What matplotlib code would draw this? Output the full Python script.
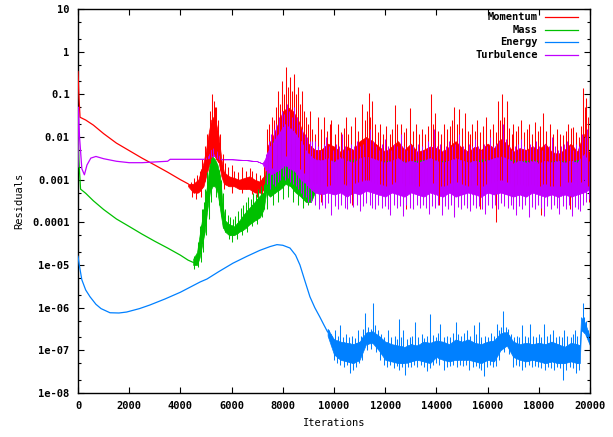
import numpy as np
import matplotlib.pyplot as plt
from matplotlib.ticker import FixedLocator, NullFormatter

# residual histories, read per series
# smooth start (iteration, residual)
mom_it = [0, 40, 80, 300, 600, 1000, 1500, 2000, 2500, 3000, 3500, 4000, 4300]
mom_val = [0.34, 0.08, 0.029, 0.025, 0.019, 0.012, 0.0072, 0.0048, 0.0032, 0.0022, 0.0015, 0.001, 0.0008]

mass_it = [0, 30, 100, 300, 600, 1000, 1500, 2000, 2500, 3000, 3500, 4000, 4300, 4500]
mass_val = [0.012, 0.003, 0.0006, 0.00048, 0.00032, 0.0002, 0.00012, 8e-5, 5.3e-5, 3.6e-5, 2.5e-5, 1.7e-5, 1.3e-5, 1.15e-5]

energy_it = [0, 50, 150, 300, 470, 700, 900, 1250, 1600, 1900, 2400, 2800, 3400, 4000, 4770, 5040,
             5500, 6050, 6600, 7100, 7500, 7770, 8000, 8280, 8500, 8670, 8850, 9060, 9250, 9450, 9600, 9750]
energy_val = [1.6e-5, 1e-5, 4.5e-6, 2.6e-6, 1.8e-6, 1.2e-6, 9.5e-7, 7.6e-7, 7.5e-7, 7.9e-7, 9.5e-7, 1.15e-6,
              1.6e-6, 2.3e-6, 4e-6, 4.7e-6, 7e-6, 1.1e-5, 1.6e-5, 2.2e-5, 2.7e-5, 3e-5, 2.9e-5, 2.5e-5,
              1.7e-5, 1e-5, 4.5e-6, 1.8e-6, 1e-6, 6e-7, 4e-7, 2.7e-7]

turb_it = [0, 15, 60, 150, 250, 350, 500, 700, 1000, 1500, 2000, 2500, 3000, 3500, 3600, 4000, 4500, 4900]
turb_val = [0.002, 0.05, 0.01, 0.0018, 0.0013, 0.0022, 0.0032, 0.0035, 0.0031, 0.0027, 0.0025, 0.0025,
            0.0026, 0.0027, 0.003, 0.003, 0.003, 0.003]

# noisy part: band checkpoints (iteration, low, high)
mom_band_it = [4300, 4500, 4700, 4900, 5000, 5100, 5200, 5300, 5400, 5500, 5600, 5700, 5900, 6100,
               6300, 6500, 6700, 6900, 7100, 7300, 7400, 7600, 7800, 8000, 8200, 8400, 8600, 8800,
               9000, 9250, 9500, 9750, 10000, 10250, 10500, 10750, 11000, 11250, 11500, 11750, 12000,
               12250, 12500, 12750, 13000, 13250, 13500, 13750, 14000, 14250, 14500, 14750, 15000,
               15250, 15500, 15750, 16000, 16250, 16500, 16750, 17000, 17250, 17500, 17750, 18000,
               18250, 18500, 18750, 19000, 19250, 19500, 19750, 20000]
mom_band_lo = [0.0007, 0.0005, 0.0005, 0.0007, 0.0012, 0.002, 0.003, 0.004, 0.003, 0.0025, 0.0012,
               0.0008, 0.0007, 0.0007, 0.0006, 0.0006, 0.0006, 0.0005, 0.0005, 0.0006, 0.0015, 0.002,
               0.003, 0.003, 0.004, 0.003, 0.002, 0.0015, 0.001, 0.0008, 0.0009, 0.0007, 0.0008, 0.0009,
               0.0007, 0.0008, 0.0009, 0.001, 0.0009, 0.0008, 0.0007, 0.0008, 0.0009, 0.0007, 0.0008,
               0.0007, 0.0008, 0.0009, 0.0008, 0.0007, 0.0008, 0.0009, 0.0008, 0.0007, 0.0008, 0.0007,
               0.0008, 0.0009, 0.001, 0.0009, 0.0007, 0.0008, 0.0007, 0.0008, 0.0007, 0.0008, 0.0007,
               0.0007, 0.0008, 0.0009, 0.0007, 0.001, 0.0006]
mom_band_hi = [0.0008, 0.0008, 0.001, 0.0025, 0.005, 0.012, 0.025, 0.03, 0.02, 0.01, 0.003, 0.0015,
               0.0012, 0.0011, 0.001, 0.0011, 0.0012, 0.001, 0.0009, 0.0013, 0.006, 0.01, 0.02, 0.04,
               0.05, 0.04, 0.025, 0.012, 0.007, 0.005, 0.005, 0.007, 0.006, 0.0045, 0.006, 0.005, 0.008,
               0.01, 0.008, 0.006, 0.0045, 0.006, 0.008, 0.005, 0.007, 0.0045, 0.005, 0.006, 0.0055,
               0.0045, 0.006, 0.008, 0.0055, 0.0045, 0.006, 0.005, 0.007, 0.0055, 0.009, 0.007, 0.0045,
               0.0055, 0.005, 0.006, 0.005, 0.007, 0.0045, 0.004, 0.005, 0.007, 0.0045, 0.012, 0.003]

mass_band_it = [4500, 4650, 4750, 4850, 4950, 5050, 5150, 5250, 5350, 5450, 5550, 5650, 5750, 5900,
                6100, 6300, 6500, 6700, 6900, 7100, 7250, 7350, 7500, 7700, 7900, 8100, 8300, 8500,
                8700, 8900, 9100, 9300, 9800, 10300, 10800, 11300, 11800, 12300, 12800, 13300, 13800,
                14300, 14800, 15300, 15800, 16300, 16800, 17300, 17800, 18300, 18800, 19300, 19800, 20000]
mass_band_lo = [1e-5, 1e-5, 1.5e-5, 3e-5, 6e-5, 2e-4, 5e-4, 7e-4, 7e-4, 5e-4, 2e-4, 8e-5, 6e-5, 5e-5,
                5e-5, 6e-5, 7e-5, 9e-5, 1.1e-4, 1.3e-4, 2e-4, 5e-4, 4e-4, 5e-4, 6e-4, 8e-4, 7e-4, 5e-4,
                4e-4, 3e-4, 3e-4, 6e-4, 7e-4, 6e-4, 7e-4, 6e-4, 7e-4, 6e-4, 7e-4, 6e-4, 7e-4, 6e-4,
                7e-4, 6e-4, 7e-4, 6e-4, 7e-4, 6e-4, 7e-4, 6e-4, 7e-4, 6e-4, 7e-4, 7e-4]
mass_band_hi = [1.4e-5, 2e-5, 5e-5, 1.2e-4, 3e-4, 8e-4, 2.5e-3, 3.5e-3, 3e-3, 2.2e-3, 1.2e-3, 2.5e-4, 1.1e-4,
                9e-5, 8e-5, 1.1e-4, 1.6e-4, 2.2e-4, 3e-4, 4.2e-4, 5e-4, 1.5e-3, 2e-3, 3.5e-3, 4e-3, 4.5e-3,
                4e-3, 3e-3, 2.2e-3, 1.2e-3, 1e-3, 2.2e-3, 2.8e-3, 2.6e-3, 3e-3, 2.8e-3, 2.6e-3, 2.9e-3,
                2.6e-3, 2.8e-3, 3e-3, 2.7e-3, 2.9e-3, 2.6e-3, 3e-3, 2.8e-3, 3e-3, 2.7e-3, 2.9e-3,
                2.6e-3, 2.8e-3, 2.7e-3, 3.2e-3, 2.4e-3]

energy_band_it = [9750, 10000, 10250, 10500, 10750, 11000, 11250, 11500, 11750, 12000, 12250, 12500,
                  12750, 13000, 13250, 13500, 13750, 14000, 14250, 14500, 14750, 15000, 15250, 15500,
                  15750, 16000, 16250, 16500, 16750, 17000, 17250, 17500, 17750, 18000, 18250, 18500,
                  18750, 19000, 19250, 19500, 19600, 19650, 19800, 20000]
energy_band_lo = [2.2e-7, 8e-8, 6e-8, 5.5e-8, 5e-8, 6e-8, 1.4e-7, 1.5e-7, 1e-7, 6e-8, 5.5e-8, 5e-8, 5e-8,
                  5.5e-8, 6e-8, 5.5e-8, 5e-8, 7e-8, 6e-8, 5.5e-8, 6e-8, 6e-8, 6e-8, 5.5e-8, 5e-8, 6e-8,
                  5.5e-8, 1e-7, 1.3e-7, 7e-8, 6e-8, 5.5e-8, 6e-8, 5.5e-8, 5e-8, 5.5e-8, 5e-8, 5e-8, 5.5e-8,
                  5e-8, 5e-8, 3e-7, 2.5e-7, 1.3e-7]
energy_band_hi = [3.2e-7, 1.8e-7, 1.6e-7, 1.5e-7, 1.4e-7, 1.6e-7, 2.6e-7, 2.8e-7, 2.2e-7, 1.6e-7, 1.4e-7,
                  1.3e-7, 1.2e-7, 1.4e-7, 1.3e-7, 1.6e-7, 1.5e-7, 1.7e-7, 1.6e-7, 1.4e-7, 1.8e-7,
                  1.6e-7, 1.8e-7, 1.5e-7, 1.4e-7, 1.6e-7, 1.7e-7, 2.5e-7, 2.7e-7, 1.6e-7, 1.4e-7,
                  1.5e-7, 1.4e-7, 1.5e-7, 1.4e-7, 1.6e-7, 1.4e-7, 1.2e-7, 1.5e-7, 1.4e-7, 1.3e-7,
                  6e-7, 4.5e-7, 2e-7]

turb_band_it = [4900, 5100, 5200, 5300, 5400, 5500, 5600, 6000, 6500, 7000, 7200, 7300, 7500, 7700,
                7900, 8100, 8300, 8500, 8700, 8900, 9100, 9250, 9500, 9750, 10000, 10250, 10500, 10750,
                11000, 11250, 11500, 11750, 12000, 12250, 12500, 12750, 13000, 13250, 13500, 13750,
                14000, 14250, 14500, 14750, 15000, 15250, 15500, 15750, 16000, 16250, 16500, 16750,
                17000, 17250, 17500, 17750, 18000, 18250, 18500, 18750, 19000, 19250, 19500, 19750, 20000]
turb_band_lo = [0.003, 0.0032, 0.0035, 0.0036, 0.0034, 0.003, 0.003, 0.003, 0.0029, 0.0027, 0.0024,
                0.0018, 0.0013, 0.0015, 0.0018, 0.0022, 0.0018, 0.0015, 0.001, 0.0008, 0.0006, 5e-4,
                4.5e-4, 5e-4, 4.5e-4, 5e-4, 4e-4, 5e-4, 4.5e-4, 5.5e-4, 5e-4, 4.5e-4, 4e-4, 5e-4,
                4.5e-4, 4e-4, 5e-4, 4.5e-4, 4e-4, 5e-4, 4.5e-4, 4e-4, 5e-4, 4e-4, 4.5e-4, 5e-4, 4.5e-4,
                4e-4, 5e-4, 4.5e-4, 5e-4, 4.5e-4, 4e-4, 4.5e-4, 4e-4, 5e-4, 4.5e-4, 4e-4, 4.5e-4, 4e-4,
                4.5e-4, 4e-4, 4.5e-4, 5e-4, 6e-4]
turb_band_hi = [0.003, 0.0036, 0.005, 0.0055, 0.0048, 0.0036, 0.003, 0.003, 0.0029, 0.0027, 0.0024,
                0.003, 0.006, 0.009, 0.014, 0.02, 0.016, 0.012, 0.008, 0.005, 0.0035, 3e-3, 2.8e-3, 3.2e-3,
                2.6e-3, 3.4e-3, 2.8e-3, 2.5e-3, 3.2e-3, 3.5e-3, 3.2e-3, 2.8e-3, 2.5e-3, 2.8e-3, 3.2e-3,
                2.5e-3, 2.8e-3, 2.5e-3, 2.8e-3, 3.2e-3, 2.8e-3, 2.5e-3, 2.8e-3, 3.2e-3, 2.8e-3, 2.5e-3,
                2.8e-3, 2.5e-3, 2.8e-3, 3.2e-3, 3.5e-3, 3.2e-3, 2.5e-3, 2.8e-3, 2.5e-3, 2.8e-3, 2.5e-3,
                2.8e-3, 2.5e-3, 2.8e-3, 2.5e-3, 2.8e-3, 2.5e-3, 4e-3, 2.5e-3]

# single spikes out of the bands (iteration, peak / trough)
mom_up_it = [4400, 4550, 4650, 4750, 4850, 4950, 5050, 5150, 5250, 5300, 5350, 5400, 5480, 5560, 5650,
             5750, 5850, 6000, 6100, 6250, 6400, 6550, 6700, 6800, 6950, 7100, 7250,
             7400, 7480, 7560, 7640, 7720, 7800, 7880, 7960, 8040, 8120, 8200, 8280, 8360, 8440, 8520,
             8600, 8680, 8760, 8840, 8920, 9000, 9080, 9160,
             9250, 9370, 9480, 9600, 9720, 9840, 9900, 10020, 10150, 10270, 10380, 10450, 10560, 10680,
             10830, 10950, 11100, 11200, 11280, 11350, 11420, 11500, 11620, 11720, 11800, 11920, 12050,
             12170, 12280, 12400, 12480, 12600, 12720, 12830, 12950, 13080, 13200, 13320, 13450, 13570,
             13680, 13800, 13870, 13950, 14070, 14180, 14300, 14420, 14540, 14620, 14700, 14800, 14900,
             15000, 15120, 15240, 15330, 15400, 15500, 15580, 15700, 15820, 15950, 16080, 16200, 16320,
             16420, 16500, 16580, 16660, 16740, 16850, 16950, 17000, 17120, 17200, 17300, 17420, 17520,
             17600, 17720, 17850, 17950, 18060, 18180, 18300, 18440, 18560, 18700, 18820, 18940, 19050,
             19150, 19250, 19350, 19460, 19560, 19650, 19730, 19800, 19860, 19930]
mom_up_val = [0.0009, 0.0011, 0.0013, 0.0016, 0.003, 0.006, 0.012, 0.04, 0.1, 0.07, 0.05, 0.05, 0.025,
              0.012, 0.004, 0.0025, 0.002, 0.0022, 0.0016, 0.0015, 0.002, 0.0016, 0.0019, 0.0016, 0.0014,
              0.0013, 0.002,
              0.015, 0.02, 0.03, 0.025, 0.05, 0.12, 0.06, 0.2, 0.1, 0.44, 0.15, 0.25, 0.12, 0.3, 0.1,
              0.15, 0.06, 0.12, 0.04, 0.03, 0.02, 0.04, 0.015,
              0.012, 0.03, 0.015, 0.03, 0.014, 0.02, 0.025, 0.012, 0.02, 0.013, 0.016, 0.029, 0.012,
              0.018, 0.03, 0.014, 0.06, 0.025, 0.04, 0.11, 0.03, 0.07, 0.02, 0.013, 0.02, 0.012, 0.018,
              0.012, 0.015, 0.056, 0.02, 0.02, 0.013, 0.016, 0.048, 0.014, 0.02, 0.012, 0.015, 0.012,
              0.018, 0.1, 0.02, 0.036, 0.014, 0.012, 0.02, 0.015, 0.018, 0.025, 0.05, 0.02, 0.045,
              0.016, 0.036, 0.014, 0.012, 0.02, 0.014, 0.025, 0.013, 0.018, 0.03, 0.015, 0.02, 0.013,
              0.07, 0.025, 0.1, 0.03, 0.07, 0.016, 0.012, 0.02, 0.014, 0.018, 0.025, 0.013, 0.015,
              0.02, 0.012, 0.022, 0.014, 0.018, 0.036, 0.014, 0.02, 0.012, 0.015, 0.012, 0.011, 0.014,
              0.02, 0.016, 0.017, 0.013, 0.01, 0.018, 0.14, 0.05, 0.08, 0.03]
mom_dn_it = [4450, 4600, 4800, 5700, 6000, 6400, 6800, 7000, 7200,
             9500, 10700, 12800, 14100, 14700, 15700, 16330, 17000, 18100, 19200, 19950]
mom_dn_val = [0.0004, 0.00035, 0.0004, 0.0006, 0.0005, 0.0005, 0.00045, 0.0004, 0.00045,
              3e-4, 2.5e-4, 2e-4, 2.5e-4, 1.5e-4, 2e-4, 1e-4, 2.5e-4, 1.5e-4, 2e-4, 3e-4]

mass_up_it = [4700, 4780, 4860, 4920, 4980, 5040, 5600, 5680, 5760, 5850, 5950, 6050, 6150, 6250, 6350,
              6450, 6550, 6650, 6750, 6850, 6950, 7050, 7150, 7250, 7450, 7600, 7700, 7800, 7950, 8050,
              8200, 8350, 8450, 8600, 8750, 8850, 9000]
mass_up_val = [3e-5, 8e-5, 2e-4, 3e-4, 6e-4, 1.5e-3, 1e-3, 5e-4, 2e-4, 1.5e-4, 1.3e-4, 1.2e-4, 1.4e-4,
               1.8e-4, 2.2e-4, 2.5e-4, 3e-4, 4e-4, 3.5e-4, 5e-4, 4.5e-4, 6e-4, 7e-4, 8e-4, 4e-3, 8e-3,
               6e-3, 7e-3, 1e-2, 8e-3, 9e-3, 7e-3, 6e-3, 5e-3, 4e-3, 3e-3, 2e-3]
mass_dn_it = [4550, 4700, 4800, 4900, 5000, 5100, 5200, 5400, 5500, 5900, 6000, 6200, 6400, 6600, 6800,
              7000, 7200, 7400, 7600, 7800, 8000, 8200, 8400, 8600, 8800, 9000]
mass_dn_val = [8e-6, 9e-6, 1.2e-5, 2e-5, 5e-5, 1.2e-4, 3e-4, 4e-4, 2.5e-4, 4e-5, 3.5e-5, 4e-5, 5e-5, 6e-5,
               8e-5, 9e-5, 1.3e-4, 2e-4, 2.5e-4, 3e-4, 3.5e-4, 4e-4, 3e-4, 2.5e-4, 2.2e-4, 2.5e-4]

energy_up_it = [9800, 9930, 10040, 10160, 10230, 10350, 10480, 10600, 10720, 10820, 10930, 11060, 11150,
                11220, 11330, 11440, 11520, 11600, 11700, 11830, 11960, 12110, 12240, 12370, 12460, 12540,
                12630, 12710, 12840, 12950, 13060, 13170, 13300, 13420, 13530, 13640, 13750, 13860, 13980,
                14060, 14150, 14280, 14400, 14520, 14640, 14750, 14860, 14960, 15060, 15180, 15300, 15450,
                15560, 15660, 15760, 15900, 16020, 16140, 16250, 16350, 16460, 16540, 16600, 16700, 16800,
                16900, 17020, 17130, 17240, 17350, 17460, 17560, 17660, 17780, 17900, 18000, 18100, 18200,
                18320, 18440, 18570, 18680, 18800, 18900, 19000, 19120, 19240, 19320, 19400, 19500, 19720,
                19780, 19850, 19930]
energy_up_val = [3e-7, 2.2e-7, 3e-7, 2.2e-7, 3.9e-7, 2e-7, 2.4e-7, 2e-7, 2.2e-7, 1.9e-7, 3e-7, 2.2e-7,
                 3.2e-7, 7.7e-7, 3.5e-7, 3.2e-7, 1.3e-6, 3.9e-7, 3e-7, 2.4e-7, 2e-7, 3e-7, 2e-7, 2.2e-7,
                 1.8e-7, 5.5e-7, 2e-7, 3e-7, 1.8e-7, 2e-7, 2.2e-7, 4.6e-7, 2e-7, 2.4e-7, 1.9e-7, 2.2e-7,
                 7.1e-7, 2.3e-7, 2e-7, 2.5e-7, 4.2e-7, 2e-7, 2.2e-7, 2e-7, 2.6e-7, 4.6e-7, 2.4e-7, 2.2e-7,
                 2.6e-7, 3e-7, 2.2e-7, 3.9e-7, 2.4e-7, 4.6e-7, 2e-7, 2.2e-7, 2e-7, 2.5e-7, 2.2e-7, 4.2e-7,
                 3e-7, 3.5e-7, 8.5e-7, 3.5e-7, 3.2e-7, 2.4e-7, 2e-7, 2.2e-7, 2e-7, 3.9e-7, 2.2e-7, 2e-7,
                 4.2e-7, 2.2e-7, 2e-7, 2.4e-7, 2e-7, 4.2e-7, 2.2e-7, 2.4e-7, 3e-7, 2e-7, 2.2e-7, 2e-7,
                 3e-7, 2.2e-7, 2e-7, 2.4e-7, 3e-7, 2.2e-7, 1.3e-6, 6e-7, 5e-7, 3e-7]
energy_dn_it = [9900, 10000, 10120, 10250, 10380, 10500, 10620, 10740, 10860, 10980, 11100, 11300, 11450,
                11650, 11800, 11950, 12080, 12200, 12330, 12450, 12540, 12650, 12760, 12880, 13000, 13120,
                13250, 13380, 13500, 13620, 13740, 13880, 14000, 14120, 14290, 14420, 14540, 14660, 14800,
                14930, 15050, 15170, 15290, 15420, 15540, 15650, 15750, 15850, 15960, 16080, 16200, 16320,
                16450, 16650, 16850, 17000, 17120, 17240, 17360, 17480, 17600, 17720, 17840, 17960, 18080,
                18240, 18360, 18480, 18600, 18720, 18840, 18960, 19080, 19200, 19330, 19450, 19560]
energy_dn_val = [1.3e-7, 6e-8, 5e-8, 4.5e-8, 4e-8, 4.5e-8, 2.9e-8, 3.5e-8, 4e-8, 5e-8, 6e-8, 1e-7, 1.1e-7,
                 9e-8, 6e-8, 4.5e-8, 4e-8, 4.5e-8, 3.8e-8, 4.2e-8, 3.4e-8, 4e-8, 2.7e-8, 4e-8, 4e-8, 4.5e-8,
                 4e-8, 4.5e-8, 4e-8, 3.2e-8, 3.8e-8, 4.5e-8, 5e-8, 4.5e-8, 3.4e-8, 4e-8, 4.2e-8, 4.5e-8,
                 4e-8, 4.5e-8, 4.2e-8, 4.5e-8, 3.5e-8, 4e-8, 4.2e-8, 3.8e-8, 3.5e-8, 2.5e-8, 4e-8, 4.5e-8,
                 4e-8, 4.2e-8, 6e-8, 9e-8, 8e-8, 4e-8, 4.5e-8, 4.2e-8, 3.5e-8, 4e-8, 4.5e-8, 4e-8, 4.2e-8,
                 4e-8, 3.8e-8, 3.4e-8, 4e-8, 3.8e-8, 3.5e-8, 4e-8, 3.8e-8, 2e-8, 3.5e-8, 4e-8, 3.8e-8,
                 3e-8, 3.5e-8]

turb_up_it = [7350, 7450, 7550, 7650, 7750, 7850, 7950, 8050, 8150, 8250, 8350, 8450, 8550, 8650, 8750,
              8850, 8950, 9050, 9150,
              9250, 9370, 9480, 9600, 9700, 9820, 9950, 10080, 10200, 10300, 10420, 10540, 10660, 10780,
              10900, 11020, 11140, 11260, 11400, 11520, 11640, 11760, 11880, 12000, 12120, 12240, 12360,
              12480, 12600, 12720, 12840, 12960, 13080, 13200, 13300, 13420, 13540, 13660, 13780, 13900,
              14020, 14140, 14260, 14380, 14500, 14620, 14740, 14900, 15020, 15140, 15260, 15380, 15500,
              15620, 15740, 15860, 15980, 16100, 16220, 16340, 16460, 16600, 16720, 16840, 16960, 17080,
              17200, 17300, 17420, 17540, 17660, 17780, 17900, 18020, 18140, 18260, 18380, 18500, 18620,
              18740, 18860, 18980, 19100, 19220, 19340, 19460, 19580, 19700, 19800, 19900]
turb_up_val = [0.004, 0.008, 0.012, 0.015, 0.02, 0.03, 0.04, 0.035, 0.06, 0.04, 0.03, 0.05, 0.03, 0.02,
               0.015, 0.012, 0.01, 0.008, 0.008,
               0.008, 0.006, 0.005, 0.007, 0.01, 0.006, 0.005, 0.007, 0.006, 0.012, 0.006, 0.005, 0.007,
               0.006, 0.008, 0.006, 0.007, 0.009, 0.015, 0.008, 0.006, 0.005, 0.007, 0.009, 0.006, 0.005,
               0.007, 0.006, 0.012, 0.006, 0.005, 0.007, 0.006, 0.005, 0.007, 0.006, 0.005, 0.008, 0.006,
               0.015, 0.006, 0.007, 0.005, 0.006, 0.008, 0.006, 0.007, 0.012, 0.006, 0.005, 0.007, 0.006,
               0.009, 0.006, 0.005, 0.007, 0.006, 0.01, 0.006, 0.007, 0.008, 0.02, 0.009, 0.006, 0.005,
               0.006, 0.007, 0.009, 0.006, 0.005, 0.007, 0.006, 0.008, 0.006, 0.005, 0.007, 0.006, 0.01,
               0.006, 0.005, 0.006, 0.007, 0.008, 0.006, 0.005, 0.007, 0.006, 0.012, 0.01, 0.015]
turb_dn_it = [7400, 7500, 7600, 7700, 7800, 7900, 8000, 8100, 8200, 8300, 8400, 8500, 8600, 8700, 8800,
              8900, 9000, 9100,
              9250, 9400, 9520, 9650, 9780, 9900, 10030, 10160, 10290, 10420, 10500, 10630, 10760, 10880,
              11000, 11130, 11260, 11390, 11500, 11600, 11730, 11860, 11990, 12100, 12200, 12330, 12460,
              12590, 12700, 12830, 12960, 13100, 13230, 13360, 13480, 13600, 13700, 13830, 13960, 14080,
              14200, 14330, 14460, 14580, 14700, 14830, 14960, 15080, 15200, 15300, 15430, 15560, 15680,
              15800, 15900, 16030, 16160, 16280, 16400, 16530, 16660, 16790, 16920, 17000, 17100, 17230,
              17360, 17480, 17600, 17730, 17860, 17980, 18100, 18200, 18330, 18460, 18580, 18700, 18800,
              18930, 19060, 19180, 19300, 19430, 19530, 19600, 19720, 19850, 19950]
turb_dn_val = [0.0008, 0.0006, 0.0008, 0.0007, 0.0009, 0.001, 0.0012, 0.001, 0.0011, 0.0009, 0.0008,
               0.0007, 0.0006, 0.0005, 0.0004, 0.0004, 0.0003, 0.0003,
               2.5e-4, 2e-4, 2.6e-4, 2.2e-4, 2.8e-4, 1.5e-4, 2.4e-4, 2e-4, 2.6e-4, 2.2e-4, 2e-4, 2.8e-4,
               2.3e-4, 2.6e-4, 1.8e-4, 2.4e-4, 2.9e-4, 2.5e-4, 2.2e-4, 2e-4, 2.6e-4, 2.2e-4, 2.4e-4, 2e-4,
               1.5e-4, 2.6e-4, 2.2e-4, 2.4e-4, 1.4e-4, 2.5e-4, 2.2e-4, 2e-4, 2.6e-4, 2.2e-4, 2.5e-4,
               2.2e-4, 1.6e-4, 2.4e-4, 2.2e-4, 2.6e-4, 1.5e-4, 2.4e-4, 2.1e-4, 2.5e-4, 1.3e-4, 2.3e-4,
               2e-4, 2.6e-4, 2.2e-4, 1.8e-4, 2.5e-4, 2.2e-4, 2.4e-4, 2.1e-4, 1.6e-4, 2.5e-4, 2.2e-4,
               2.6e-4, 2e-4, 2.8e-4, 2.4e-4, 2.2e-4, 2.5e-4, 2e-4, 1.5e-4, 2.4e-4, 2.1e-4, 2.5e-4, 1.3e-4,
               2.3e-4, 2.1e-4, 2.5e-4, 2.2e-4, 1.4e-4, 2.4e-4, 2.1e-4, 2.5e-4, 2.2e-4, 1.6e-4, 2.4e-4,
               2.1e-4, 2.5e-4, 1.4e-4, 2.3e-4, 2e-4, 1.8e-4, 2.5e-4, 3e-4, 3.5e-4]

names = ['Momentum', 'Mass', 'Energy', 'Turbulence']
colors = ['#ff0000', '#00c000', '#0080ff', '#c000ff']

ytick_vals = [10, 1, 0.1, 0.01, 0.001, 0.0001, 1e-5, 1e-6, 1e-7, 1e-8]
ytick_labels = ['10', '1', '0.1', '0.01', '0.001', '0.0001', '1e-05', '1e-06', '1e-07', '1e-08']
xtick_vals = list(range(0, 20001, 2000))

plt.rcParams['font.family'] = 'DejaVu Sans Mono'
plt.rcParams['font.weight'] = 'bold'
plt.rcParams['font.size'] = 7.5

fig = plt.figure(figsize=(6.13, 4.37), dpi=100)
ax = fig.add_axes([78 / 613, 44 / 437, 512 / 613, 384 / 437])


def draw(color, it, val, b_it, b_lo, b_hi, up_it, up_val, dn_it, dn_val):
    ax.plot(it, val, color=color, lw=0.9, zorder=3)
    ax.fill_between(b_it, b_lo, b_hi, color=color, lw=0.5)
    # spikes start inside the band
    base = np.interp(up_it, b_it, b_lo)
    ax.vlines(up_it, base, up_val, color=color, lw=0.75)
    base = np.interp(dn_it, b_it, b_hi)
    ax.vlines(dn_it, dn_val, base, color=color, lw=0.75)


draw(colors[0], mom_it, mom_val, mom_band_it, mom_band_lo, mom_band_hi,
     mom_up_it, mom_up_val, mom_dn_it, mom_dn_val)
draw(colors[1], mass_it, mass_val, mass_band_it, mass_band_lo, mass_band_hi,
     mass_up_it, mass_up_val, mass_dn_it, mass_dn_val)
draw(colors[2], energy_it, energy_val, energy_band_it, energy_band_lo, energy_band_hi,
     energy_up_it, energy_up_val, energy_dn_it, energy_dn_val)
draw(colors[3], turb_it, turb_val, turb_band_it, turb_band_lo, turb_band_hi,
     turb_up_it, turb_up_val, turb_dn_it, turb_dn_val)

ax.set_yscale('log')
ax.set_xlim(0, 20000)
ax.set_ylim(1e-8, 10)
ax.yaxis.set_major_locator(FixedLocator(ytick_vals))
ax.set_yticklabels(ytick_labels)
minor = [m * 10.0 ** e for e in range(-8, 1) for m in (2, 5)]
ax.yaxis.set_minor_locator(FixedLocator(minor))
ax.yaxis.set_minor_formatter(NullFormatter())
ax.set_xticks(xtick_vals)
ax.set_xticklabels([str(v) for v in xtick_vals])
ax.tick_params(which='both', direction='in', top=True, right=True, width=0.8)
ax.tick_params(which='major', length=4, pad=6)
ax.tick_params(which='minor', length=2.2)
for s in ax.spines.values():
    s.set_linewidth(1.0)

ax.set_xlabel('Iterations', labelpad=5)
ax.set_ylabel('Residuals', labelpad=6)

# legend: right-aligned text with a short line sample
for i, (name, c) in enumerate(zip(names, colors)):
    y = 1 - (8 + i * 12.7) / 384
    ax.text((538 - 78) / 512, y, name, ha='right', va='center', transform=ax.transAxes)
    ax.plot([(545 - 78) / 512, (578 - 78) / 512], [y, y], color=c, lw=0.9, transform=ax.transAxes)

fig.savefig('out.png', dpi=100)
